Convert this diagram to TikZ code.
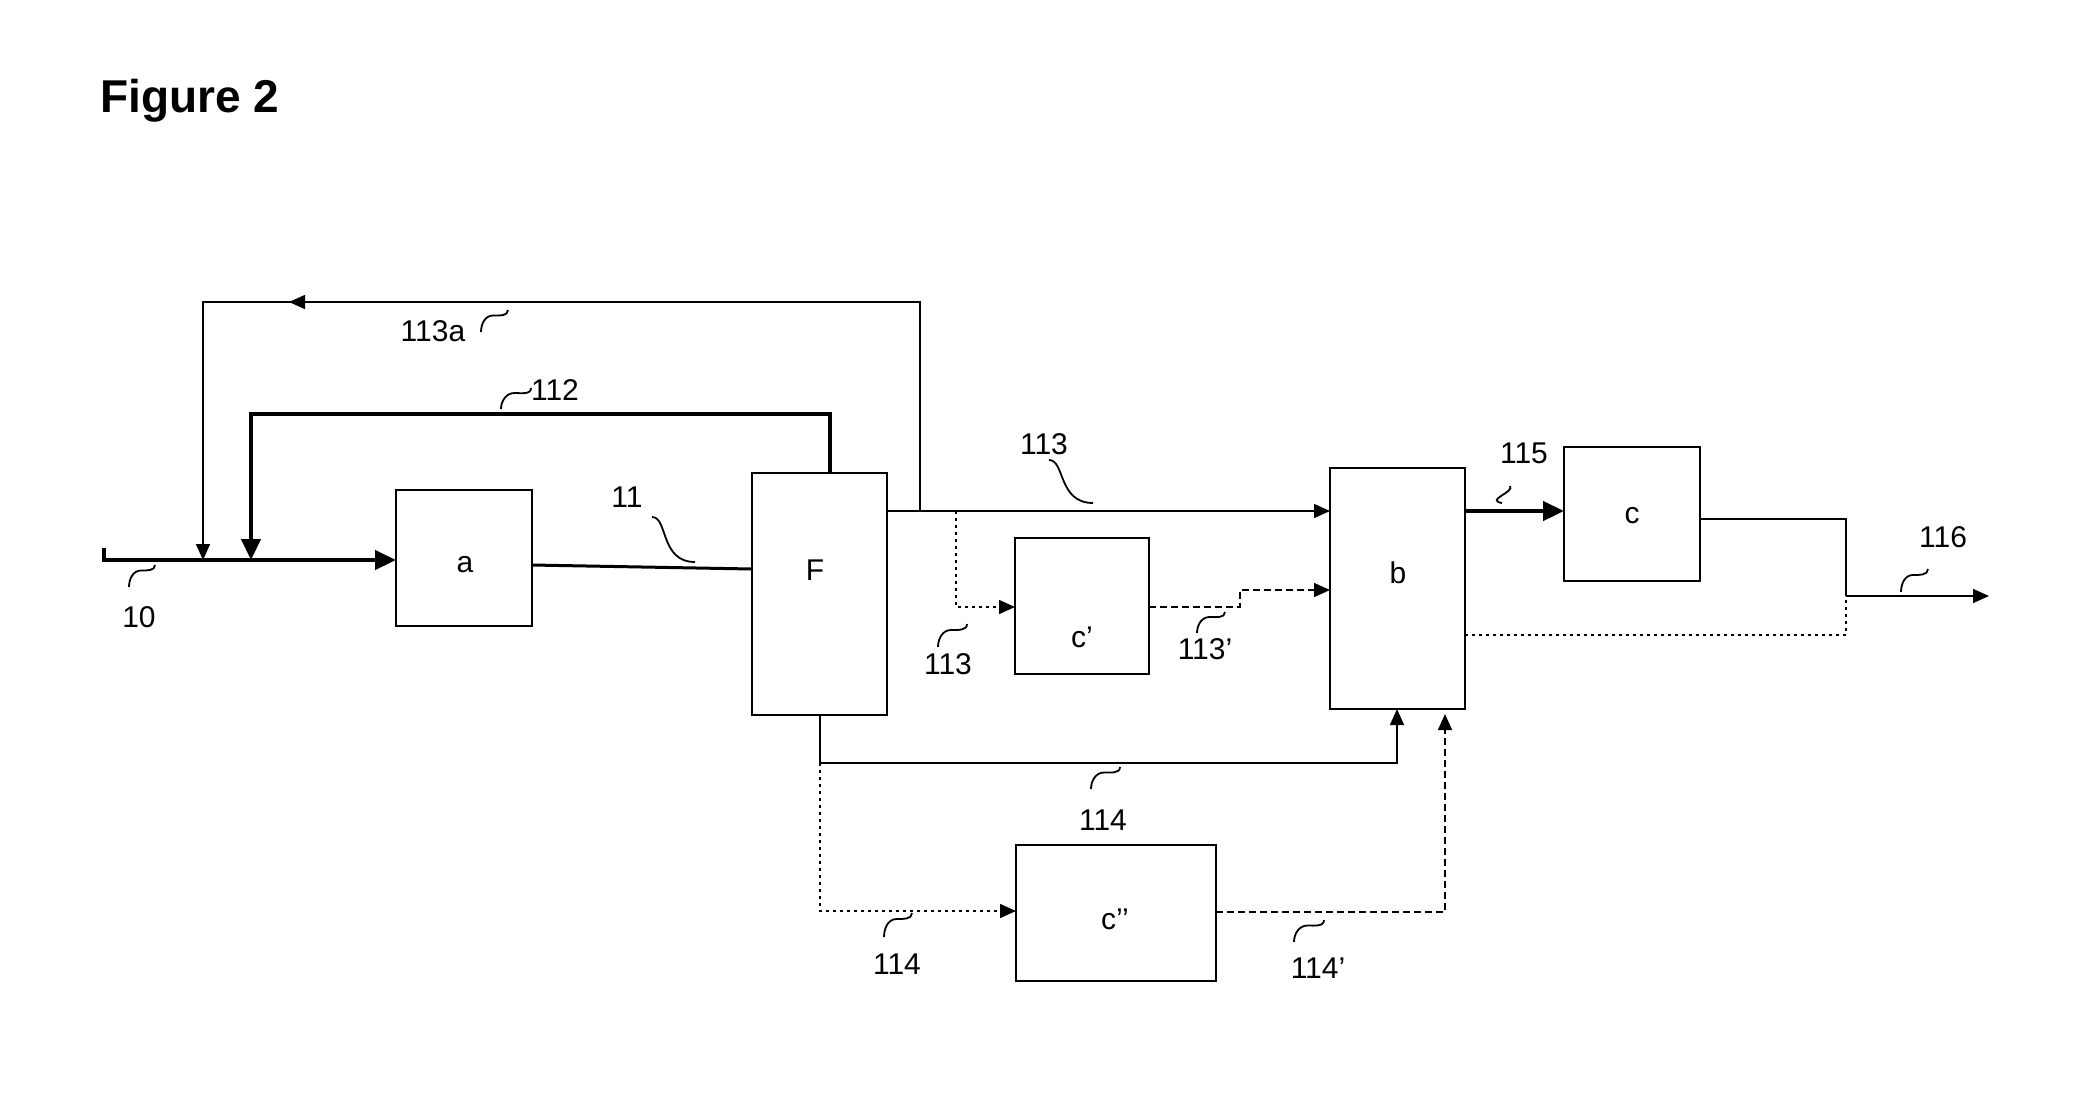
\documentclass[tikz,border=0pt]{standalone}
\usepackage{fontspec}
\setmainfont{Liberation Sans}
\usetikzlibrary{arrows.meta,calc}
\begin{document}
\begin{tikzpicture}[x=1pt,y=-1pt,
  box/.style={draw, line width=2.6pt, inner sep=0pt, outer sep=0pt},
  lbl/.style={font=\fontsize{30}{36}\selectfont, inner sep=0pt},
  thinln/.style={line width=1.5pt},
  medln/.style={line width=3pt},
  thickln/.style={line width=4.5pt},
  dotln/.style={line width=1.5pt, dash pattern=on 3pt off 4pt},
  dashln/.style={line width=1.5pt, dash pattern=on 7pt off 4pt},
  sq/.style={line width=1.8pt},
  tip/.style={-{Triangle[length=16pt,width=14pt]}},
  bigtip/.style={-{Triangle[length=21pt,width=19pt]}}]
\fill[white] (0,0) rectangle (2096,1109);
\useasboundingbox (0,0) rectangle (2096,1109);

\node[anchor=base west, font=\bfseries\fontsize{46}{55}\selectfont, inner sep=0pt] (title) at (100,112) {Figure 2};

% boxes
\node[box, minimum width=136pt, minimum height=136pt] (a) at (464,558) {};
\node[box, minimum width=135pt, minimum height=242pt] (F) at (819.5,594) {};
\node[box, minimum width=134pt, minimum height=136pt] (cp) at (1082,606) {};
\node[box, minimum width=135pt, minimum height=241pt] (b) at (1397.5,588.5) {};
\node[box, minimum width=136pt, minimum height=134pt] (c) at (1632,514) {};
\node[box, minimum width=200pt, minimum height=136pt] (cpp) at (1116,913) {};

% box texts
\node[lbl] (ta) at (465,565) {a};
\node[lbl] (tF) at (815,570) {F};
\node[lbl] (tcp) at (1082,637) {c’};
\node[lbl] (tb) at (1398,573) {b};
\node[lbl] (tc) at (1632,516) {c};
\node[lbl] (tcpp) at (1115,919) {c’’};

% coordinates
\coordinate (s10) at (104,560);
\coordinate (t10) at (104,548);
\coordinate (j113a) at (920,511);
\coordinate (k113a) at (920,302);
\coordinate (l113a) at (203,302);
\coordinate (x112) at (830,0);
\coordinate (u112) at (830,414);
\coordinate (v112) at (251,414);
\coordinate (br113) at (956,511);
\coordinate (d113) at (956,607);
\coordinate (e113p) at (1240,607);
\coordinate (f113p) at (1240,590);
\coordinate (cout) at (1846,519);
\coordinate (merge) at (1846,596);
\coordinate (end116) at (1989,596);
\coordinate (bd) at (1846,635);
\coordinate (x114) at (820,0);
\coordinate (j114) at (820,763);
\coordinate (k114) at (1397,763);
\coordinate (d114) at (820,911);
\coordinate (e114p) at (1445,912);

% 10
\draw[thickln, bigtip] (t10) -- (s10) -- (s10 -| a.west);
% 113a
\draw[thinln, tip] (j113a) -- (k113a) -- (l113a) -- (l113a |- s10);
\draw[thinln, tip] (310,302) -- (289,302);
% 112
\draw[thickln, bigtip] (x112 |- F.north) -- (u112) -- (v112) -- (v112 |- s10);
% 11
\draw[medln] ($(a.east)+(0,7)$) -- ($(F.west)+(0,-25)$);
% 113
\draw[thinln, tip] (F.east |- j113a) -- (b.west |- j113a);
\draw[dotln, tip] (br113) -- (d113) -- (cp.west |- d113);
\draw[dashln, tip] (cp.east |- d113) -- (e113p) -- (f113p) -- (b.west |- f113p);
% 115
\draw[thickln, bigtip] (b.east |- j113a) -- (c.west |- j113a);
% 116
\draw[thinln] (c.east |- cout) -- (cout) -- (merge);
\draw[thinln, tip] (merge) -- (end116);
\draw[dotln] (b.east |- bd) -- (bd) -- (merge);
% 114
\draw[thinln, tip] (x114 |- F.south) -- (j114) -- (k114) -- (k114 |- b.south);
\draw[dotln, tip] (j114) -- (d114) -- (cpp.west |- d114);
\draw[dashln, tip] (cpp.east |- e114p) -- (e114p) -- ($(e114p |- b.south)+(0,5)$);

% labels
\node[lbl] (l113a) at (433,331) {113a};
\node[lbl] (l112) at (555,390) {112};
\node[lbl] (l11) at (627,497) {11};
\node[lbl] (l10) at (139,617) {10};
\node[lbl] (l113u) at (1044,444) {113};
\node[lbl] (l113l) at (948,664) {113};
\node[lbl] (l113p) at (1205,649) {113’};
\node[lbl] (l115) at (1524,453) {115};
\node[lbl] (l116) at (1943,537) {116};
\node[lbl] (l114u) at (1103,820) {114};
\node[lbl] (l114l) at (897,964) {114};
\node[lbl] (l114p) at (1318,968) {114’};

% squiggles
\draw[sq] (129,587) to[out=90,in=180] (141,570.5) to[out=0,in=-90] (155,565);
\draw[sq] (481,332) to[out=90,in=180] (493,315.5) to[out=0,in=-90] (508,310);
\draw[sq] (501,409) to[out=90,in=180] (514.5,393) to[out=0,in=-90] (531,388);
\draw[sq] (652,517) .. controls (668,517) and (660,562) .. (695,562);
\draw[sq] (1049,460) .. controls (1065,460) and (1058,503) .. (1093,503);
\draw[sq] (938,647) to[out=90,in=180] (951,630) to[out=0,in=-90] (967,624);
\draw[sq] (1197,633) to[out=90,in=180] (1209.6,617) to[out=0,in=-90] (1225,612);
\draw[sq] (1502,503) .. controls (1485,500) and (1515,492) .. (1510,486);
\draw[sq] (1901,592) to[out=90,in=180] (1913,575) to[out=0,in=-90] (1928,569);
\draw[sq] (1091,789) to[out=90,in=180] (1104,772.5) to[out=0,in=-90] (1120,767);
\draw[sq] (884,937) to[out=90,in=180] (896.6,919) to[out=0,in=-90] (912,913);
\draw[sq] (1294,942) to[out=90,in=180] (1307.5,925.5) to[out=0,in=-90] (1324,920);
\end{tikzpicture}
\end{document}
